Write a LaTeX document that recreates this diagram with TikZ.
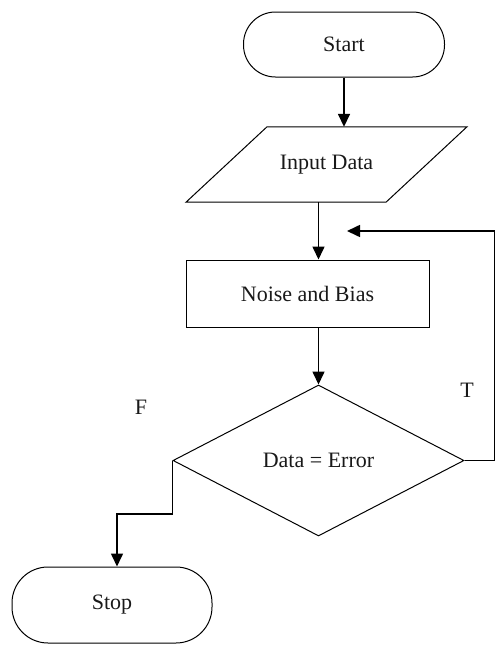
\documentclass[tikz,border=0pt]{standalone}
\usepackage{fontspec}
\setmainfont{Liberation Serif}
\usetikzlibrary{shapes.geometric,arrows.meta}
\begin{document}
\begin{tikzpicture}[x=1pt,y=-1pt,
  every node/.style={font=\fontsize{22}{24}\selectfont, inner sep=0pt, text=black!90},
  terminal/.style={draw, line width=1pt, minimum width=201pt},
  process/.style={draw, line width=1pt, minimum width=243pt, minimum height=67pt},
  decision/.style={draw, diamond, line width=1pt, minimum width=291pt, minimum height=151pt},
  conn/.style={line width=1.6pt, -{Triangle[width=12pt,length=13pt]}}]
\useasboundingbox (0,0) rectangle (498,645);
\node[terminal, rounded corners=32pt, minimum height=65pt] (start) at (344,44.5) {Start};
\node[minimum width=200pt, minimum height=75pt] (input) at (326.5,164.5) {Input Data};
\draw[line width=1pt] ([xshift=-59.5pt]input.north) -- ([xshift=140.5pt]input.north)
  -- ([xshift=59.5pt]input.south) -- ([xshift=-140.5pt]input.south) -- cycle;
\node[process] (noise) at (307.5,293.5) {Noise and Bias};
\node[decision] (dec) at (318.5,460.5) {Data = Error};
\node[terminal, rounded corners=36pt, minimum width=200pt, minimum height=76pt] (stop) at (112,605) {Stop};
\node (T) at (467,390) {T};
\node (F) at (141,407) {F};
\coordinate (loopin) at (347,231);
\coordinate (fbend) at (117,514);
\draw[conn] (start.south) -- (start.south |- input.north);
\draw[conn] (dec.north |- input.south) -- (dec.north |- noise.north);
\draw[conn] (dec.north |- noise.south) -- (dec.north);
\draw[conn] (dec.east) -- ++(30,0) |- (loopin);
\draw[conn] (dec.west) |- (fbend) -- (fbend |- stop.north);
\end{tikzpicture}
\end{document}
